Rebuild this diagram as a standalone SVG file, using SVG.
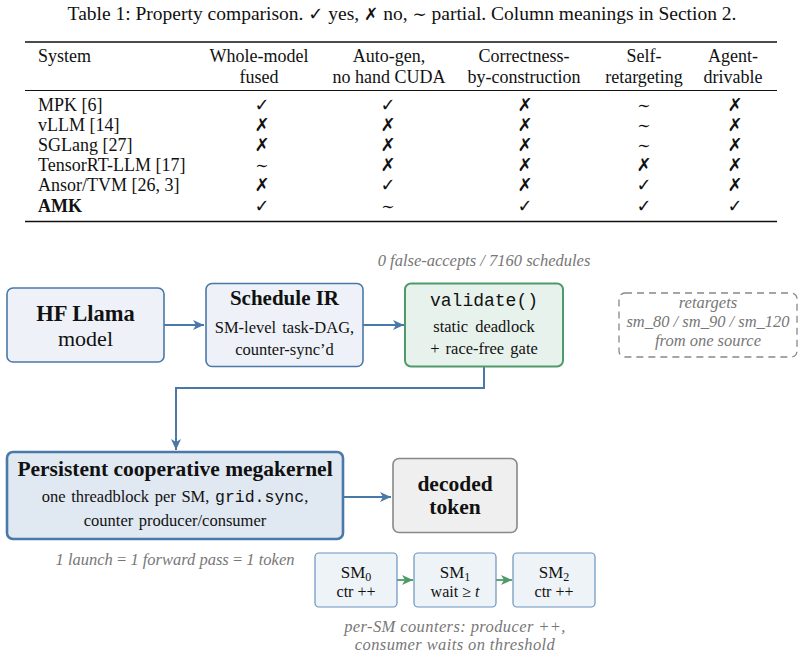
<svg xmlns="http://www.w3.org/2000/svg" width="804" height="658" viewBox="0 0 804 658">
<defs>
<style>
.cap{font-family:"Liberation Serif","Times New Roman",serif;font-size:19.5px;fill:#111;text-anchor:middle}
.t{font-family:"Liberation Serif","Times New Roman",serif;font-size:18px;fill:#111}
.c{text-anchor:middle}
.sym{font-family:"DejaVu Sans",sans-serif;font-size:18px;font-weight:bold;fill:#111;text-anchor:middle}
.tl{font-family:"DejaVu Serif","Liberation Serif",serif;font-weight:normal;font-size:16px}
.rule{stroke:#111;fill:none}
.bt{font-family:"Liberation Serif","Times New Roman",serif;font-weight:bold;font-size:21.5px;fill:#111;text-anchor:middle}
.nt{font-family:"Liberation Serif","Times New Roman",serif;font-size:16.5px;fill:#111;text-anchor:middle}
.it{font-family:"Liberation Serif","Times New Roman",serif;font-style:italic;font-size:16.5px;fill:#777;text-anchor:middle}
.mono{font-family:"Liberation Mono","DejaVu Sans Mono",monospace}
.blue{fill:#eef2f8;stroke:#4a78a8;stroke-width:1.6}
.mk{fill:#e0e8f1;stroke:#4a78a8;stroke-width:2.6}
.green{fill:#e8f2ec;stroke:#4f9a6b;stroke-width:2}
.gray{fill:#efefef;stroke:#888;stroke-width:1.6}
.sm{fill:#eef3f8;stroke:#6a94bf;stroke-width:1.2}
.dash{fill:none;stroke:#888;stroke-width:1.3;stroke-dasharray:7 5}
.arr{fill:none;stroke:#4a78a8;stroke-width:2}
.garr{fill:none;stroke:#4f9a6b;stroke-width:1.8}
</style>
<marker id="ab" markerUnits="userSpaceOnUse" markerWidth="12" markerHeight="10" refX="11" refY="5" orient="auto">
<path d="M0,0 L11,5 L0,10 L3,5 z" fill="#4a78a8"/>
</marker>
<marker id="ag" markerUnits="userSpaceOnUse" markerWidth="12" markerHeight="10" refX="11" refY="5" orient="auto">
<path d="M0,0 L11,5 L0,10 L3,5 z" fill="#4f9a6b"/>
</marker>
</defs>
<rect width="804" height="658" fill="#fff"/>

<g id="table">
<text class="cap" x="402" y="20">Table 1: Property comparison. <tspan style="font-family:'DejaVu Sans';font-weight:bold;font-size:18px">✓</tspan> yes, <tspan style="font-family:'DejaVu Sans';font-weight:bold;font-size:17px">✗</tspan> no, <tspan style="font-family:'DejaVu Serif';font-size:17px">∼</tspan> partial. Column meanings in Section 2.</text>
<line class="rule" x1="25" y1="42" x2="777" y2="42" stroke-width="1.6"/>
<line class="rule" x1="25" y1="90.5" x2="777" y2="90.5" stroke-width="1"/>
<line class="rule" x1="25" y1="221.5" x2="777" y2="221.5" stroke-width="1.6"/>
<text class="t" x="38" y="62">System</text>
<text class="t c" x="259" y="62">Whole-model</text>
<text class="t c" x="259" y="83">fused</text>
<text class="t c" x="389" y="62">Auto-gen,</text>
<text class="t c" x="389" y="83">no hand CUDA</text>
<text class="t c" x="524" y="62">Correctness-</text>
<text class="t c" x="524" y="83">by-construction</text>
<text class="t c" x="644" y="62">Self-</text>
<text class="t c" x="644" y="83">retargeting</text>
<text class="t c" x="733" y="62">Agent-</text>
<text class="t c" x="733" y="83">drivable</text>

<text class="t" x="38" y="111">MPK [6]</text>
<text class="t" x="38" y="131">vLLM [14]</text>
<text class="t" x="38" y="151">SGLang [27]</text>
<text class="t" x="38" y="171">TensorRT-LLM [17]</text>
<text class="t" x="38" y="191">Ansor/TVM [26, 3]</text>
<text class="t" x="38" y="212" style="font-weight:bold">AMK</text>

<g class="sym">
<text x="262" y="111">✓</text><text x="388" y="111">✓</text><text x="525" y="111">✗</text><text class="tl" x="644" y="111">∼</text><text x="735" y="111">✗</text>
<text x="262" y="131">✗</text><text x="388" y="131">✗</text><text x="525" y="131">✗</text><text class="tl" x="644" y="131">∼</text><text x="735" y="131">✗</text>
<text x="262" y="151">✗</text><text x="388" y="151">✗</text><text x="525" y="151">✗</text><text class="tl" x="644" y="151">∼</text><text x="735" y="151">✗</text>
<text class="tl" x="262" y="171">∼</text><text x="388" y="171">✗</text><text x="525" y="171">✗</text><text x="644" y="171">✗</text><text x="735" y="171">✗</text>
<text x="262" y="191">✗</text><text x="388" y="191">✓</text><text x="525" y="191">✗</text><text x="644" y="191">✓</text><text x="735" y="191">✗</text>
<text x="262" y="212">✓</text><text class="tl" x="388" y="212">∼</text><text x="525" y="212">✓</text><text x="644" y="212">✓</text><text x="735" y="212">✓</text>
</g>
</g>

<text class="it" x="484" y="266">0 false-accepts / 7160 schedules</text>

<g id="connectors">
<line class="arr" x1="164" y1="325" x2="204" y2="325" marker-end="url(#ab)"/>
<line class="arr" x1="363" y1="325" x2="404" y2="325" marker-end="url(#ab)"/>
<polyline class="arr" points="484,367 484,388 176,388 176,450" marker-end="url(#ab)"/>
<line class="arr" x1="343" y1="497" x2="391" y2="497" marker-end="url(#ab)"/>
<line class="garr" x1="397" y1="580" x2="413" y2="580" marker-end="url(#ag)"/>
<line class="garr" x1="496" y1="580" x2="512" y2="580" marker-end="url(#ag)"/>
</g>

<g id="hf">
<rect class="blue" x="7" y="288" width="157" height="74" rx="6"/>
<text class="bt" x="85.5" y="321" style="font-size:22.5px">HF Llama</text>
<text class="nt" x="85.5" y="346" style="font-size:22px">model</text>
</g>

<g id="schedule">
<rect class="blue" x="206" y="283.5" width="157" height="83" rx="6"/>
<text class="bt" x="284.5" y="305" style="font-size:21px">Schedule IR</text>
<text class="nt" x="284.5" y="333" style="word-spacing:2px">SM-level task-DAG,</text>
<text class="nt" x="284.5" y="355">counter-sync’d</text>
</g>

<g id="validate">
<rect class="green" x="405" y="283.5" width="158" height="83" rx="6"/>
<text class="nt mono" x="484" y="306" style="font-size:18px">validate()</text>
<text class="nt" x="484" y="332" style="word-spacing:3px">static deadlock</text>
<text class="nt" x="484" y="354" style="word-spacing:2px">+ race-free gate</text>
</g>

<g id="retarget">
<rect class="dash" x="619" y="293" width="178" height="64" rx="6"/>
<text class="it" x="708" y="308">retargets</text>
<text class="it" x="708" y="327">sm_80 / sm_90 / sm_120</text>
<text class="it" x="708" y="346">from one source</text>
</g>

<g id="megakernel">
<rect class="mk" x="7" y="452" width="336" height="87" rx="6"/>
<text class="bt" x="175" y="476">Persistent cooperative megakernel</text>
<text class="nt" x="175" y="502" style="word-spacing:1.5px">one threadblock per SM, <tspan class="mono">grid.sync</tspan>,</text>
<text class="nt" x="175" y="526" style="word-spacing:1.5px">counter producer/consumer</text>
</g>

<g id="decoded">
<rect class="gray" x="393" y="458.5" width="124" height="74" rx="6"/>
<text class="bt" x="455" y="491">decoded</text>
<text class="bt" x="455" y="514">token</text>
</g>

<text class="it" x="175" y="565">1 launch <tspan style="font-style:normal">=</tspan> 1 forward pass <tspan style="font-style:normal">=</tspan> 1 token</text>

<g id="sm0">
<rect class="sm" x="315" y="553" width="82" height="54" rx="4"/>
<text class="nt" x="356" y="578" style="font-size:17px">SM<tspan style="font-size:12px" dy="3">0</tspan></text>
<text class="nt" x="356" y="597" style="font-size:16px">ctr ++</text>
</g>
<g id="sm1">
<rect class="sm" x="414" y="553" width="82" height="54" rx="4"/>
<text class="nt" x="455" y="578" style="font-size:17px">SM<tspan style="font-size:12px" dy="3">1</tspan></text>
<text class="nt" x="455" y="597" style="font-size:16px">wait ≥ <tspan style="font-style:italic">t</tspan></text>
</g>
<g id="sm2">
<rect class="sm" x="513" y="553" width="82" height="54" rx="4"/>
<text class="nt" x="554" y="578" style="font-size:17px">SM<tspan style="font-size:12px" dy="3">2</tspan></text>
<text class="nt" x="554" y="597" style="font-size:16px">ctr ++</text>
</g>

<text class="it" x="455" y="632" style="letter-spacing:0.4px">per-SM counters: producer ++,</text>
<text class="it" x="455" y="650" style="letter-spacing:0.4px">consumer waits on threshold</text>
</svg>
